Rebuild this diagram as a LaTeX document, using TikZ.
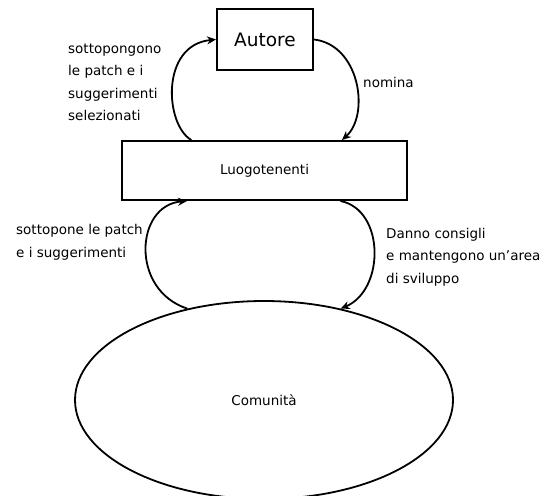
\documentclass[tikz,border=0pt]{standalone}
\usepackage{fontspec}
\setmainfont{DejaVu Sans}
\usetikzlibrary{shapes.geometric,arrows.meta,calc}
\begin{document}
\begin{tikzpicture}[x=1pt,y=-1pt,
  box/.style={draw,line width=2pt,inner sep=0pt},
  lbl/.style={inner sep=0pt,align=left,anchor=west,font=\fontsize{13.5}{22.5}\selectfont},
  conn/.style={line width=1.8pt,-{Stealth[length=9pt,width=8pt]}}]
\useasboundingbox (0,0) rectangle (545,495);
\node[box,minimum width=96pt,minimum height=61pt,font=\fontsize{18.5}{20}\selectfont] (autore) at (265,39.5) {Autore};
\node[box,minimum width=285pt,minimum height=59pt,font=\fontsize{13.5}{15}\selectfont] (luogo) at (264.5,170.5) {Luogotenenti};
\node[draw,ellipse,line width=1.8pt,inner sep=0pt,minimum width=378pt,minimum height=198pt,font=\fontsize{13.5}{15}\selectfont] (comm) at (264,400) {Comunità};
\coordinate (lt1) at ($(luogo.north west)!0.245!(luogo.north east)$);
\coordinate (lt2) at ($(luogo.north west)!0.77!(luogo.north east)$);
\coordinate (lb1) at ($(luogo.south west)!0.23!(luogo.south east)$);
\coordinate (lb2) at ($(luogo.south west)!0.765!(luogo.south east)$);
\draw[conn] (lt1) .. controls (165,125) and (160,45) .. (autore.west);
\draw[conn] (autore.east) .. controls (360,45) and (370,115) .. (lt2);
\draw[conn] (comm.130) .. controls (130,290) and (135,205) .. (lb1);
\draw[conn] (lb2) .. controls (385,210) and (385,290) .. (comm.50);
\node[lbl] (t1) at (68,82.5) {sottopongono\\le patch e i\\suggerimenti\\selezionati};
\node[lbl] (t2) at (363,82) {nomina};
\node[lbl] (t3) at (16,242.5) {sottopone le patch\\e i suggerimenti};
\node[lbl] (t4) at (386,257) {Danno consigli\\e mantengono un{\char"0027}area\\di sviluppo};
\end{tikzpicture}
\end{document}
